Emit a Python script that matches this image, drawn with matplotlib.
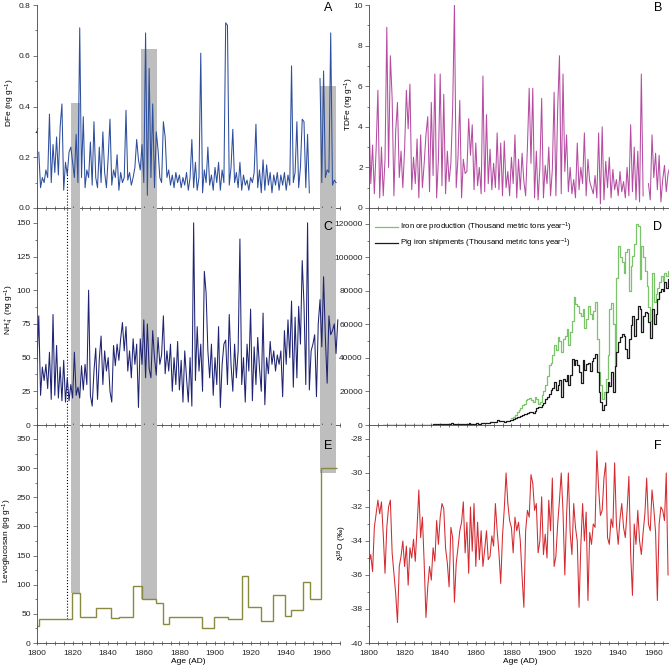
import numpy as np
import matplotlib
matplotlib.use("Agg")
import matplotlib.pyplot as plt
import matplotlib.transforms as mtransforms

plt.rcParams['font.family'] = ['Liberation Sans', 'DejaVu Sans']
plt.rcParams['mathtext.default'] = 'regular'
plt.rcParams['axes.unicode_minus'] = False

# ---- data ----
# A: DFe (ng/g), yearly, two segments
dfe_start1 = 1801
dfe_1 = [0.22, 0.08, 0.12, 0.10, 0.15, 0.12, 0.37, 0.10, 0.25, 0.14,
         0.28, 0.13, 0.32, 0.41, 0.07, 0.18, 0.13, 0.22, 0.24, 0.18,
         0.12, 0.29, 0.10, 0.71, 0.12, 0.36, 0.08, 0.15, 0.12, 0.26,
         0.09, 0.34, 0.12, 0.08, 0.24, 0.10, 0.30, 0.14, 0.08, 0.20,
         0.35, 0.09, 0.15, 0.12, 0.21, 0.07, 0.14, 0.10, 0.12, 0.385,
         0.11, 0.14, 0.09, 0.12, 0.16, 0.27, 0.19, 0.15, 0.25, 0.10,
         0.69, 0.05, 0.55, 0.12, 0.41, 0.08, 0.30, 0.23, 0.12, 0.10,
         0.34, 0.28, 0.12, 0.15, 0.09, 0.13, 0.08, 0.14, 0.10, 0.13,
         0.08, 0.12, 0.09, 0.14, 0.07, 0.12, 0.27, 0.08, 0.18, 0.07,
         0.12, 0.61, 0.06, 0.15, 0.10, 0.24, 0.09, 0.13, 0.07, 0.16,
         0.10, 0.18, 0.07, 0.15, 0.10, 0.73, 0.72, 0.09, 0.16, 0.31,
         0.10, 0.14, 0.08, 0.18, 0.07, 0.13, 0.09, 0.11, 0.07, 0.12,
         0.10, 0.14, 0.33, 0.08, 0.15, 0.06, 0.19, 0.07, 0.17, 0.09,
         0.14, 0.06, 0.13, 0.09, 0.14, 0.07, 0.13, 0.09, 0.14, 0.07,
         0.13, 0.09, 0.56, 0.10, 0.14, 0.34, 0.08, 0.16, 0.35, 0.34,
         0.08, 0.29, 0.06]
dfe_start2 = 1959
dfe_2 = [0.51, 0.10, 0.54, 0.12, 0.15, 0.14, 0.69, 0.09, 0.11, 0.10]

# B: TDFe (ng/g)
tdfe_start1 = 1800
tdfe_1 = [4.6, 1.2, 3.1, 0.7, 2.9, 5.8, 0.5, 3.0, 0.6, 2.4,
          8.9, 2.0, 7.5, 5.4, 0.6, 3.8, 5.2, 1.5, 2.8, 1.0,
          2.9, 5.8, 3.9, 6.1, 0.9, 2.5, 1.2, 3.4, 0.5, 3.6,
          1.0, 2.2, 3.6, 4.5, 0.8, 5.2, 1.6, 6.6, 0.5, 2.4,
          6.6, 1.1, 5.6, 0.7, 2.8, 1.3, 2.2, 4.9, 10.0, 1.0,
          2.5, 5.3, 0.5, 2.4, 1.7, 1.8, 4.4, 2.6, 4.1, 0.9,
          3.2, 1.1, 2.0, 0.7, 6.5, 0.8, 4.6, 1.2, 2.9, 0.9,
          2.2, 1.0, 3.7, 0.9, 3.2, 0.6, 3.3, 1.0, 1.8, 0.6,
          2.5, 1.2, 3.6, 0.5, 2.4, 0.9, 2.7, 1.3, 0.6, 3.0,
          5.9, 2.2, 5.9, 0.5, 2.8, 0.4, 2.0, 5.4, 0.5, 2.1,
          1.2, 3.0, 0.6, 1.9, 5.7, 0.6, 4.9, 7.5, 0.7, 6.6,
          1.8, 3.6, 0.8, 2.0, 0.7, 1.4, 0.5, 3.2, 0.9, 2.0,
          1.2, 3.7, 0.6, 2.4, 1.3, 1.0, 0.7, 1.6, 0.5, 3.7,
          0.2, 4.0, 0.4, 2.3, 1.0, 2.5, 0.5, 1.9, 0.9, 1.4,
          0.6, 1.8, 0.8, 1.3, 0.5, 2.0, 0.6, 4.1, 0.8, 3.0,
          0.4, 2.8, 0.3, 6.6, 0.6]
tdfe_start2 = 1957
tdfe_2 = [1.2, 0.4, 3.6, 1.5, 2.7, 0.9, 2.6, 0.3, 1.4, 2.1, 0.8, 1.7, 2.0]

# C: NH4+ (ng/g)
nh4_start = 1800
nh4 = [47, 81, 22, 43, 33, 45, 27, 54, 19, 82,
       22, 59, 20, 43, 18, 48, 17, 35, 18, 30,
       20, 54, 22, 28, 20, 44, 26, 45, 30, 100,
       22, 14, 40, 57, 19, 49, 66, 30, 55, 40,
       50, 25, 17, 59, 44, 60, 48, 64, 76, 55,
       73, 40, 55, 35, 64, 45, 60, 13, 64, 45,
       78, 35, 75, 42, 35, 70, 50, 37, 65, 45,
       52, 81, 38, 55, 40, 60, 25, 50, 30, 62,
       26, 48, 17, 55, 35, 17, 50, 14, 150, 33,
       73, 40, 60, 25, 114, 98, 55, 35, 60, 22,
       50, 30, 73, 13, 45, 60, 63, 30, 82, 45,
       25, 60, 35, 55, 138, 30, 50, 17, 60, 40,
       86, 18, 58, 30, 65, 42, 25, 83, 15, 50,
       38, 62, 45, 55, 40, 52, 45, 55, 21, 70,
       45, 78, 50, 92, 28, 80, 35, 88, 60, 122,
       89, 30, 150, 26, 55, 60, 67, 21, 75, 93,
       58, 110, 65, 31, 81, 67, 70, 75, 53, 78]

# D: iron ore production / pig iron shipments (thousand metric tons per year)
pig_start = 1808
pig_iron = [50, 60, 70, 80, 90, 100, 100, 110, 120, 120,
            130, 140, 150, 150, 160, 170, 180, 190, 200, 200,
            210, 220, 230, 240, 250, 260, 270, 280, 300, 310,
            300, 320, 330, 350, 300, 320, 450, 700, 900, 800,
            750, 650, 600, 550, 600, 750, 800, 780, 900, 850,
            700, 850, 900, 750, 800, 1000, 1100, 900, 1300, 1400,
            1500, 1800, 1800, 1900, 2700, 2600, 2400, 2100, 1900, 2100,
            2300, 2800,
            3000, 3500, 4000, 4500, 5000, 5500, 6000, 6300, 6300, 7000,
            7900, 7900, 6900, 8500, 9900, 10500, 11000, 11900, 13000, 15800,
            17000, 18500, 20800, 22000, 25700, 21000, 24000, 26700, 17000, 27700,
            26000, 29700, 24000, 30000, 39600, 36000, 38600, 36000, 31700, 25000,
            38600, 33000, 36600, 37000, 32000, 38000, 40000, 42600, 31700, 19800,
            14000, 8900, 11900, 19800, 25700, 23000, 31700, 19800, 35000, 43600,
            49500, 52500, 54400, 53000, 45600, 40000, 51500, 59400, 65300, 53000,
            63400, 71300, 69000, 55400, 65300, 67300, 67000, 61400, 52000, 69300,
            60000, 66000, 75200, 79200, 81200, 80000, 85100, 82000, 87100, 87500]
ore_start = 1880
iron_ore = [4000, 5000, 5900, 7500, 8900, 10000, 11900, 12500, 14800, 15500,
            16200, 15000, 13900, 16500, 15800, 12500, 13900, 17800, 20500, 23800,
            29000, 35600, 37000, 41600, 47500, 45000, 52500, 50000, 43600, 51500,
            53000, 57400, 47500, 55400, 62000, 76200, 72000, 71300, 67000, 65300,
            69300, 58000, 63400, 71300, 66000, 63400, 68000, 73200, 51500, 31700,
            24000, 15800, 19800, 27700, 41600, 69300, 73000, 60000, 35000, 88000,
            106900, 100000, 97000, 91000, 103000, 105000, 80000, 95000, 101000, 108000,
            119800, 118800, 87100, 106900, 100000, 92000, 83100, 70300, 62000, 91000,
            73200, 78000, 82000, 85100, 89000, 86000, 91000, 89000, 92000, 93000]

# E: levoglucosan (pg/g), stepped
levo_edges = [1800, 1801.3, 1819.9, 1824.2, 1833, 1841.6, 1845.9, 1854.1, 1858.8,
              1866.7, 1870.6, 1874.2, 1892.5, 1899.6, 1907.5, 1915, 1918.7, 1925.8,
              1932.8, 1939.3, 1942.5, 1949.6, 1953.4, 1959.4, 1968.4]
levo = [29, 42, 86, 45, 60, 43, 45, 98, 75, 68, 32, 45, 25, 44, 42, 115, 62,
        37, 82, 47, 57, 104, 75, 300]

# F: d18O (permil)
d18o_start = 1800
d18o = [-35.3, -34.8, -35.8, -33.2, -32.4, -31.6, -32.4, -31.7, -33.6, -35.9,
        -33.2, -32.0, -31.6, -34.7, -35.9, -37.1, -38.8, -35.5, -34.9, -34.0,
        -35.5, -34.3, -36.6, -34.4, -35.0, -33.9, -35.2, -33.2, -31.0, -33.8,
        -32.6, -35.3, -38.5, -36.7, -35.5, -36.3, -34.4, -35.2, -32.8, -34.2,
        -32.6, -31.8, -32.1, -34.4, -35.3, -36.7, -33.2, -33.8, -37.6, -35.3,
        -34.4, -33.4, -32.9, -31.7, -34.7, -32.9, -35.9, -32.0, -34.6, -31.8,
        -35.5, -32.9, -35.1, -33.4, -35.5, -34.5, -33.4, -35.1, -34.9, -33.7,
        -34.3, -31.8, -33.4, -34.7, -36.5, -33.7, -32.1, -30.0, -31.8, -32.8,
        -33.2, -34.7, -32.6, -33.4, -32.9, -34.0, -36.1, -37.9, -33.4, -32.2,
        -32.6, -30.1, -30.6, -32.2, -31.8, -34.7, -34.0, -31.4, -34.8, -33.6,
        -35.0, -31.6, -33.4, -30.3, -35.5, -34.9, -33.0, -31.6, -30.0, -32.3,
        -36.0, -32.5, -30.0, -33.5, -34.8, -31.8, -33.2, -34.0, -37.9, -34.3,
        -31.8, -34.0, -32.3, -37.5, -33.5, -34.2, -33.0, -33.2, -28.7, -30.9,
        -32.5, -32.2, -30.3, -29.4, -33.8, -34.2, -32.7, -33.2, -29.4, -33.0,
        -34.2, -32.7, -31.8, -33.2, -33.8, -32.2, -30.2, -34.7, -37.2, -33.0,
        -34.2, -32.2, -34.0, -34.8, -33.5, -32.4, -30.3, -33.0, -33.4, -31.0,
        -32.1, -33.5, -37.5, -33.0, -32.0, -32.2, -32.8, -30.0, -36.0]

# grey intervals and their heights in A / bottoms in E
shade_spans = [(1819.1, 1824.3), (1858.6, 1867.4), (1959.1, 1968.1)]
shade_top_a = [0.415, 0.625, 0.48]
shade_bottom_e = [86, 75, 291]
marker_year = 1817
marker_a_top = 0.158
marker_e_bottom = 42


def yrs(start, vals):
    return np.arange(start, start + len(vals))


fig = plt.figure(figsize=(6.69, 6.69), dpi=100)

W = 669.0
lx, rx = 37 / W, 369 / W
aw = 302.6 / W
rows = [(1 - 208 / W, 203 / W), (1 - 425 / W, 217 / W), (1 - 643 / W, 218 / W)]

axA = fig.add_axes([lx, rows[0][0], aw, rows[0][1]])
axB = fig.add_axes([rx, rows[0][0], aw, rows[0][1]])
axC = fig.add_axes([lx, rows[1][0], aw, rows[1][1]])
axD = fig.add_axes([rx, rows[1][0], aw, rows[1][1]])
axE = fig.add_axes([lx, rows[2][0], aw, rows[2][1]])
axF = fig.add_axes([rx, rows[2][0], aw, rows[2][1]])

grey = '#bebebe'
fs = 6

# A
for (x0, x1), h in zip(shade_spans, shade_top_a):
    axA.bar((x0 + x1) / 2, h, width=x1 - x0, color=grey, zorder=1)
axA.plot(yrs(dfe_start1, dfe_1), dfe_1, color='#2d4f9e', lw=0.75, zorder=3)
axA.plot(yrs(dfe_start2, dfe_2), dfe_2, color='#2d4f9e', lw=0.75, zorder=3)
axA.plot([marker_year, marker_year], [0, marker_a_top], ls=':', color='k', lw=0.8)
axA.set_ylim(0, 0.8)
axA.set_yticks(np.arange(0, 0.81, 0.2))
axA.set_yticks(np.arange(0, 0.81, 0.1), minor=True)
axA.set_ylabel('DFe (ng g$^{-1}$)', fontsize=fs)
axA.yaxis.set_label_coords(-0.066, 0.52)
trans = mtransforms.blended_transform_factory(axA.transAxes, axA.transData)
axA.text(0.0, 0.3, '/', transform=trans, fontsize=6, ha='center', va='center')

# B
axB.plot(yrs(tdfe_start1, tdfe_1), tdfe_1, color='#b54ca2', lw=0.75)
axB.plot(yrs(tdfe_start2, tdfe_2), tdfe_2, color='#b54ca2', lw=0.75)
axB.set_ylim(0, 10)
axB.set_yticks(np.arange(0, 11, 2))
axB.set_yticks(np.arange(0, 11, 1), minor=True)
axB.set_ylabel('TDFe (ng g$^{-1}$)', fontsize=fs)
axB.yaxis.set_label_coords(-0.043, 0.51)

# C
for x0, x1 in shade_spans:
    axC.axvspan(x0, x1, color=grey, lw=0, zorder=1)
axC.plot(yrs(nh4_start, nh4), nh4, color='#1e2372', lw=0.75, zorder=3)
axC.axvline(marker_year, ls=':', color='k', lw=0.8)
axC.set_ylim(0, 161)
axC.set_yticks(np.arange(0, 151, 25))
axC.set_yticks(np.arange(0, 151, 12.5), minor=True)
axC.set_ylabel('NH$_4^+$ (ng g$^{-1}$)', fontsize=fs)
axC.yaxis.set_label_coords(-0.068, 0.53)

# D
axD.step(yrs(ore_start, iron_ore), iron_ore, where='post', color='#7cc46b', lw=0.9,
         label='Iron ore production (Thousand metric tons year$^{-1}$)')
axD.step(yrs(pig_start, pig_iron), pig_iron, where='post', color='#1a1a1a', lw=0.9,
         label='Pig iron shipments (Thousand metric tons year$^{-1}$)')
axD.set_ylim(0, 129500)
axD.set_yticks(np.arange(0, 120001, 20000))
axD.set_yticks(np.arange(0, 120001, 10000), minor=True)
axD.legend(loc='upper left', frameon=False, fontsize=5.6, handlelength=2.9,
           handletextpad=0.35, labelspacing=0.3, borderaxespad=0,
           bbox_to_anchor=(0.01, 0.955))

# E
for (x0, x1), b in zip(shade_spans, shade_bottom_e):
    axE.bar((x0 + x1) / 2, 374 - b, bottom=b, width=x1 - x0, color=grey, zorder=1)
axE.stairs(levo, levo_edges, baseline=None, color='#8a8a3f', lw=1.0, zorder=3)
axE.plot([marker_year, marker_year], [marker_e_bottom, 374], ls=':', color='k', lw=0.8)
axE.set_ylim(0, 374)
axE.set_yticks(np.arange(0, 351, 50))
axE.set_yticks(np.arange(0, 351, 25), minor=True)
axE.set_ylabel('Levoglucosan (pg g$^{-1}$)', fontsize=fs)
axE.yaxis.set_label_coords(-0.075, 0.47)

# F
axF.plot(yrs(d18o_start, d18o), d18o, color='#d42a30', lw=0.75)
axF.set_ylim(-40, -27.18)
axF.set_yticks(np.arange(-40, -27, 2))
axF.set_yticks(np.arange(-40, -27, 1), minor=True)
axF.set_ylabel(r'$\delta^{18}$O (‰)', fontsize=fs)
axF.yaxis.set_label_coords(-0.066, 0.46)

letter_pos = {'A': (0.962, 0.985), 'B': (0.955, 0.985), 'C': (0.962, 0.912),
              'D': (0.955, 0.912), 'E': (0.962, 0.904), 'F': (0.955, 0.904)}

for ax, letter in zip([axA, axB, axC, axD, axE, axF], 'ABCDEF'):
    ax.patch.set_visible(False)
    ax.set_xlim(1800, 1970)
    ax.set_xticks(np.arange(1800, 1961, 20))
    ax.set_xticks(np.arange(1800, 1971, 5), minor=True)
    ax.spines['top'].set_visible(False)
    ax.spines['right'].set_visible(False)
    for s in ('left', 'bottom'):
        ax.spines[s].set_linewidth(0.6)
        ax.spines[s].set_color('#444444')
        ax.spines[s].set_zorder(5)
    ax.tick_params(axis='x', which='both', direction='inout', length=3, width=0.5,
                   labelsize=fs, colors='#444444', labelcolor='#222222')
    ax.tick_params(axis='y', which='major', direction='out', length=3, width=0.5,
                   labelsize=fs, colors='#444444', labelcolor='#222222', pad=1.5)
    ax.tick_params(axis='y', which='minor', direction='out', length=1.8, width=0.5,
                   colors='#444444')
    px, py = letter_pos[letter]
    ax.text(px, py, letter, transform=ax.transAxes, fontsize=9,
            ha='center', va='center')
    if ax in (axE, axF):
        ax.set_xlabel('Age (AD)', fontsize=fs, labelpad=1)
    else:
        ax.tick_params(axis='x', labelbottom=False)

fig.savefig('out.png', dpi=100)
